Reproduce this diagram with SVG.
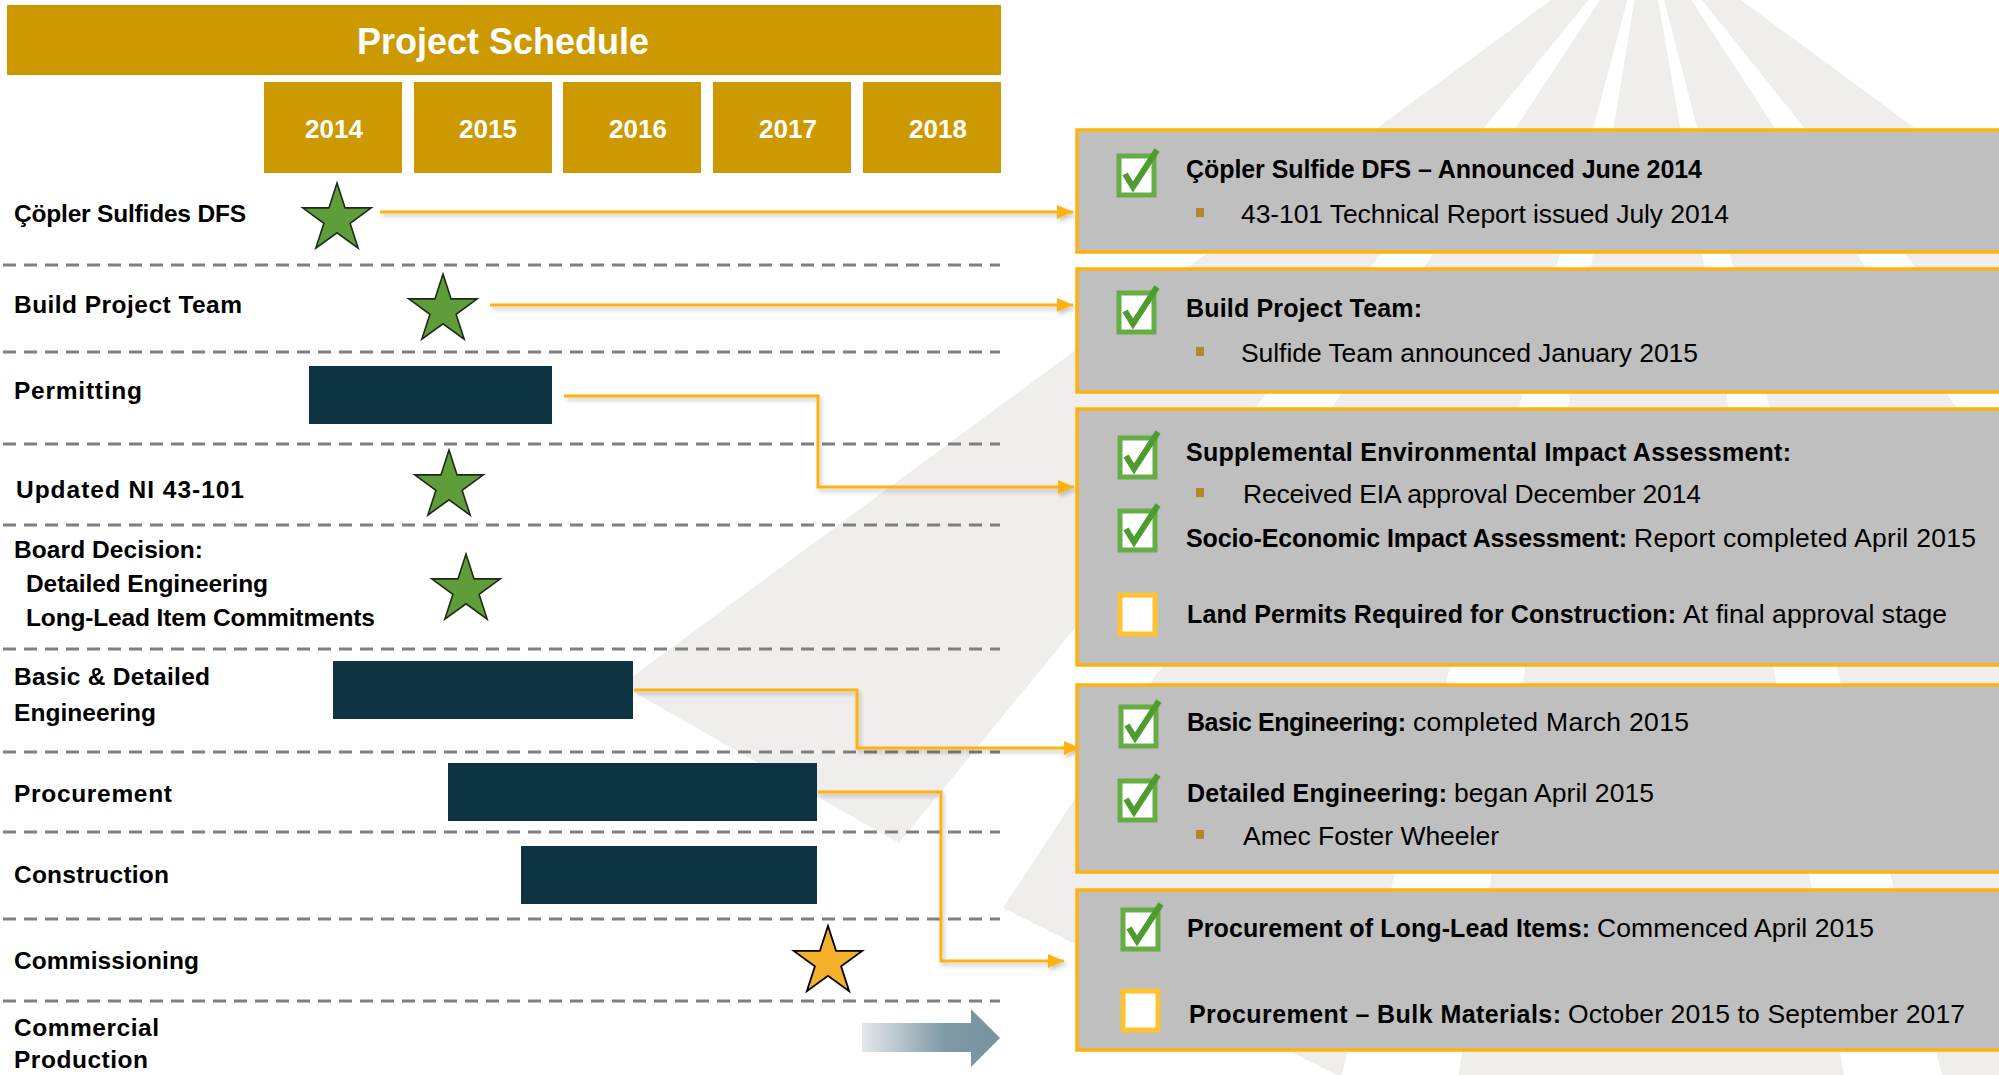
<svg xmlns="http://www.w3.org/2000/svg" xmlns:xlink="http://www.w3.org/1999/xlink" width="1999" height="1075" viewBox="0 0 1999 1075">
<style>
text{font-family:"Liberation Sans",Arial,sans-serif;fill:#000}
.title{font-weight:bold;font-size:36px;fill:#fff;text-anchor:middle}
.yr{font-weight:bold;font-size:26px;fill:#fff;text-anchor:middle}
.lbl{font-weight:bold;font-size:24.5px}
.bt{font-weight:bold;font-size:25px}
.rg{font-weight:normal;font-size:26.5px}
.gold{fill:#CC9900}
.dash{stroke:#7f7f7f;stroke-width:3;stroke-dasharray:13 8;fill:none}
.bar{fill:#0E3444}
.ray{fill:#EFEEEC}
.box{fill:#BFBFBF;stroke:#FFB20F;stroke-width:3.5}
.conn{fill:none;stroke:#FFB20F;stroke-width:3}
.gstar{fill:#5F9D3B;stroke:#1f2a16;stroke-width:1.6;stroke-linejoin:miter}
.ostar{fill:#F6B12B;stroke:#000;stroke-width:1.8}
.bul{fill:#B8842C}
</style>
<defs>
<path id="star" d="M0,-36 L8.08,-11.12 L34.24,-11.12 L13.08,4.25 L21.16,29.12 L0,13.75 L-21.16,29.12 L-13.08,4.25 L-34.24,-11.12 L-8.08,-11.12 Z"/>
<g id="chk">
<rect x="-17" y="-19" width="35" height="39" fill="#fff" stroke="#66AD45" stroke-width="5"/>
<path d="M-11,-1 L-3,12 L21,-25" fill="none" stroke="#4E9C30" stroke-width="6" stroke-linejoin="miter"/>
</g>
<g id="emp">
<rect x="-17" y="-19" width="35" height="39" fill="#fff" stroke="#FFC230" stroke-width="5"/>
</g>
<marker id="ah" markerUnits="userSpaceOnUse" markerWidth="16" markerHeight="14" refX="16" refY="7" orient="auto">
<path d="M0,0 L16,7 L0,14 Z" fill="#FFB20F"/>
</marker>
<linearGradient id="cp" x1="862" y1="0" x2="1000" y2="0" gradientUnits="userSpaceOnUse">
<stop offset="0" stop-color="#E3E8EB"/>
<stop offset="0.6" stop-color="#7F9AA7"/>
<stop offset="1" stop-color="#7793A0"/>
</linearGradient>
<filter id="sh" x="-5%" y="-50%" width="110%" height="200%">
<feDropShadow dx="2" dy="3" stdDeviation="2" flood-color="#000" flood-opacity="0.22"/>
</filter>
</defs>

<g id="background">
<rect width="1999" height="1075" fill="#fff"/>
<polygon class="ray" points="1646,-70 621,685 899,843"/>
<polygon class="ray" points="1646,-70 1003,908 1341,1077"/>
<polygon class="ray" points="1646,-70 1444,1164 1859,1162"/>
<polygon class="ray" points="1646,-70 1959,1140 2327,978"/>
<polygon class="ray" points="1646,-70 2386,855 2704,709"/>
</g>

<g id="title">
<rect class="gold" x="7" y="5" width="994" height="70"/>
<text class="title" x="503" y="54">Project Schedule</text>
</g>

<g id="years">
<g id="y2014"><rect class="gold" x="264" y="82" width="138" height="91"/><text class="yr" x="334" y="138">2014</text></g>
<g id="y2015"><rect class="gold" x="414" y="82" width="138" height="91"/><text class="yr" x="488" y="138">2015</text></g>
<g id="y2016"><rect class="gold" x="563" y="82" width="138" height="91"/><text class="yr" x="638" y="138">2016</text></g>
<g id="y2017"><rect class="gold" x="713" y="82" width="138" height="91"/><text class="yr" x="788" y="138">2017</text></g>
<g id="y2018"><rect class="gold" x="863" y="82" width="138" height="91"/><text class="yr" x="938" y="138">2018</text></g>
</g>

<g id="dividers">
<line class="dash" x1="3" y1="265" x2="1000" y2="265"/>
<line class="dash" x1="3" y1="352" x2="1000" y2="352"/>
<line class="dash" x1="3" y1="444" x2="1000" y2="444"/>
<line class="dash" x1="3" y1="525" x2="1000" y2="525"/>
<line class="dash" x1="3" y1="649" x2="1000" y2="649"/>
<line class="dash" x1="3" y1="752" x2="1000" y2="752"/>
<line class="dash" x1="3" y1="832" x2="1000" y2="832"/>
<line class="dash" x1="3" y1="919" x2="1000" y2="919"/>
<line class="dash" x1="3" y1="1001" x2="1000" y2="1001"/>
</g>

<g id="row-copler"><text class="lbl" x="14" y="222" textLength="232">Çöpler Sulfides DFS</text><use href="#star" class="gstar" x="337" y="219"/></g>
<g id="row-team"><text class="lbl" x="14" y="313" textLength="228">Build Project Team</text><use href="#star" class="gstar" x="443" y="310"/></g>
<g id="row-permitting"><text class="lbl" x="14" y="399" textLength="128">Permitting</text><rect class="bar" x="309" y="366" width="243" height="58"/></g>
<g id="row-ni"><text class="lbl" x="16" y="498" textLength="228">Updated NI 43-101</text><use href="#star" class="gstar" x="449" y="486"/></g>
<g id="row-board"><text class="lbl" x="14" y="558" textLength="189">Board Decision:</text><text class="lbl" x="26" y="592" textLength="242">Detailed Engineering</text><text class="lbl" x="26" y="626" textLength="349">Long-Lead Item Commitments</text><use href="#star" class="gstar" x="466" y="590"/></g>
<g id="row-engineering"><text class="lbl" x="14" y="685" textLength="196">Basic &amp; Detailed</text><text class="lbl" x="14" y="721" textLength="142">Engineering</text><rect class="bar" x="333" y="661" width="300" height="58"/></g>
<g id="row-procurement"><text class="lbl" x="14" y="802" textLength="158">Procurement</text><rect class="bar" x="448" y="763" width="369" height="58"/></g>
<g id="row-construction"><text class="lbl" x="14" y="883" textLength="155">Construction</text><rect class="bar" x="521" y="846" width="296" height="58"/></g>
<g id="row-commissioning"><text class="lbl" x="14" y="969" textLength="185">Commissioning</text><use href="#star" class="ostar" x="828" y="962"/></g>
<g id="row-production"><text class="lbl" x="14" y="1036" textLength="145">Commercial</text><text class="lbl" x="14" y="1068" textLength="134">Production</text><polygon points="862,1023 971,1023 971,1009 1000,1038 971,1067 971,1052 862,1052" fill="url(#cp)"/></g>

<g id="connectors" filter="url(#sh)">
<path class="conn" d="M380,212 H1073" marker-end="url(#ah)"/>
<path class="conn" d="M490,305 H1073" marker-end="url(#ah)"/>
<path class="conn" d="M564,396 H818 V487 H1074" marker-end="url(#ah)"/>
<path class="conn" d="M634,690 H857 V748 H1080" marker-end="url(#ah)"/>
<path class="conn" d="M818,792 H941 V961 H1064" marker-end="url(#ah)"/>
</g>

<g id="box-dfs">
<rect class="box" x="1077" y="130" width="940" height="122"/>
<use href="#chk" x="1136" y="175"/>
<text class="bt" x="1186" y="178" textLength="516">Çöpler Sulfide DFS – Announced June 2014</text>
<rect class="bul" x="1196" y="208" width="8" height="9"/>
<text class="rg" x="1241" y="223" textLength="488">43-101 Technical Report issued July 2014</text>
</g>

<g id="box-team">
<rect class="box" x="1077" y="269" width="940" height="123"/>
<use href="#chk" x="1136" y="312"/>
<text class="bt" x="1186" y="317" textLength="236">Build Project Team:</text>
<rect class="bul" x="1196" y="347" width="8" height="9"/>
<text class="rg" x="1241" y="362" textLength="457">Sulfide Team announced January 2015</text>
</g>

<g id="box-permits">
<rect class="box" x="1077" y="409" width="940" height="256"/>
<use href="#chk" x="1137" y="457"/>
<text class="bt" x="1186" y="461" textLength="605">Supplemental Environmental Impact Assessment:</text>
<rect class="bul" x="1196" y="488" width="8" height="9"/>
<text class="rg" x="1243" y="503" textLength="458">Received EIA approval December 2014</text>
<use href="#chk" x="1137" y="530"/>
<text class="bt" y="547"><tspan x="1186" textLength="441">Socio-Economic Impact Assessment:</tspan><tspan class="rg" x="1634" textLength="342">Report completed April 2015</tspan></text>
<use href="#emp" x="1137" y="614"/>
<text class="bt" y="623"><tspan x="1187" textLength="489">Land Permits Required for Construction:</tspan><tspan class="rg" x="1683" textLength="264">At final approval stage</tspan></text>
</g>

<g id="box-engineering">
<rect class="box" x="1077" y="685" width="940" height="187"/>
<use href="#chk" x="1138" y="726"/>
<text class="bt" y="731"><tspan x="1187" textLength="219">Basic Engineering:</tspan><tspan class="rg" x="1413" textLength="276">completed March 2015</tspan></text>
<use href="#chk" x="1137" y="800"/>
<text class="bt" y="802"><tspan x="1187" textLength="260">Detailed Engineering:</tspan><tspan class="rg" x="1454" textLength="200">began April 2015</tspan></text>
<rect class="bul" x="1196" y="830" width="8" height="9"/>
<text class="rg" x="1243" y="845" textLength="256">Amec Foster Wheeler</text>
</g>

<g id="box-procurement">
<rect class="box" x="1077" y="890" width="940" height="160"/>
<use href="#chk" x="1140" y="929"/>
<text class="bt" y="937"><tspan x="1187" textLength="403">Procurement of Long-Lead Items:</tspan><tspan class="rg" x="1597" textLength="277">Commenced April 2015</tspan></text>
<use href="#emp" x="1140" y="1010"/>
<text class="bt" y="1023"><tspan x="1189" textLength="372">Procurement – Bulk Materials:</tspan><tspan class="rg" x="1568" textLength="397">October 2015 to September 2017</tspan></text>
</g>
</svg>
